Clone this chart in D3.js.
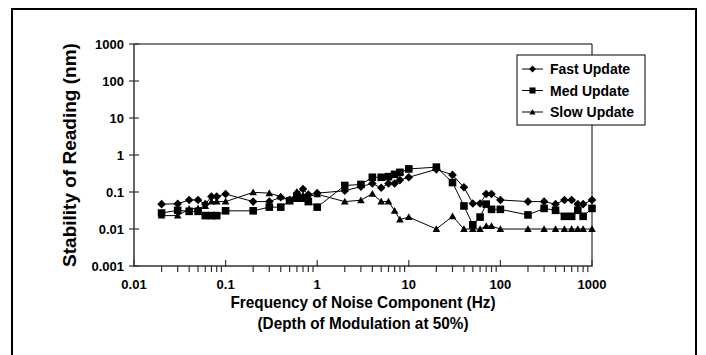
<!DOCTYPE html>
<html>
<head>
<meta charset="utf-8">
<script src="https://cdn.jsdelivr.net/npm/d3@7"></script>
<style>
  body { margin: 0; background: #fff; }
  svg text { font-family: "Liberation Sans", Arial, sans-serif; font-weight: bold; fill: #000; }
</style>
</head>
<body>
<div id="chart"></div>
<script>
// frequencies (Hz)
const frequencies = [0.02, 0.03, 0.04, 0.05, 0.06, 0.07, 0.08, 0.1, 0.2, 0.3, 0.4, 0.5, 0.6, 0.7, 0.8,
  1, 2, 3, 4, 5, 6, 7, 8, 10, 20, 30, 40, 50, 60, 70, 80, 100, 200, 300, 400, 500, 600, 700, 800, 1000];

// stability (nm)
const fastUpdate = [0.047, 0.048, 0.061, 0.061, 0.047, 0.075, 0.075, 0.088, 0.055, 0.055, 0.072, 0.062, 0.093, 0.12, 0.085,
  0.093, 0.108, 0.14, 0.17, 0.13, 0.17, 0.17, 0.21, 0.25, 0.41, 0.29, 0.134, 0.049, 0.049, 0.088, 0.088, 0.061, 0.055, 0.055,
  0.047, 0.061, 0.061, 0.047, 0.047, 0.061];
const medUpdate = [0.027, 0.032, 0.03, 0.03, 0.023, 0.023, 0.023, 0.031, 0.031, 0.039, 0.039, 0.058, 0.068, 0.068, 0.055,
  0.039, 0.15, 0.16, 0.25, 0.25, 0.26, 0.30, 0.34, 0.42, 0.47, 0.18, 0.042, 0.013, 0.021, 0.047, 0.034, 0.034, 0.024, 0.036,
  0.032, 0.022, 0.022, 0.032, 0.022, 0.036];
const slowUpdate = [0.023, 0.023, 0.035, 0.036, 0.042, 0.055, 0.055, 0.055, 0.098, 0.093, 0.075, 0.06, 0.1, 0.08, 0.075,
  0.087, 0.055, 0.06, 0.09, 0.055, 0.055, 0.031, 0.018, 0.021, 0.01, 0.022, 0.01, 0.01, 0.01, 0.012, 0.012, 0.01, 0.01, 0.01,
  0.01, 0.01, 0.01, 0.01, 0.01, 0.01];

const seriesNames = ['Fast Update', 'Med Update', 'Slow Update'];
const xTicks = [0.01, 0.1, 1, 10, 100, 1000];
const yTicks = [0.001, 0.01, 0.1, 1, 10, 100, 1000];

const width = 706, height = 355;
const margin = { left: 134, right: 114, top: 44, bottom: 89 };
const plotW = width - margin.left - margin.right;
const plotH = height - margin.top - margin.bottom;

const svg = d3.select('#chart').append('svg')
  .attr('width', width)
  .attr('height', height);

// outer frame (bottom edge is cut off)
svg.append('path')
  .attr('d', 'M12,356 V9 H696 V356')
  .attr('fill', 'none')
  .attr('stroke', '#000')
  .attr('stroke-width', 2);

const g = svg.append('g')
  .attr('transform', `translate(${margin.left},${margin.top})`);

const x = d3.scaleLog().domain([0.01, 1000]).range([0, plotW]);
const y = d3.scaleLog().domain([0.001, 1000]).range([plotH, 0]);

// top and right border of plot
g.append('path')
  .attr('d', `M0,0 H${plotW} V${plotH}`)
  .attr('fill', 'none')
  .attr('stroke', '#000')
  .attr('stroke-width', 1);

// minor x ticks (outside)
const minorX = [];
for (let p = -2; p < 3; p++) {
  for (let m = 2; m <= 9; m++) minorX.push(m * Math.pow(10, p));
}
g.append('g')
  .selectAll('line')
  .data(minorX)
  .join('line')
  .attr('x1', d => x(d)).attr('x2', d => x(d))
  .attr('y1', plotH).attr('y2', plotH + 6)
  .attr('stroke', '#333')
  .attr('stroke-width', 1.2);

// major x ticks (inside)
g.append('g')
  .selectAll('line')
  .data(xTicks)
  .join('line')
  .attr('x1', d => x(d)).attr('x2', d => x(d))
  .attr('y1', plotH - 6).attr('y2', plotH + 1)
  .attr('stroke', '#333')
  .attr('stroke-width', 1.2);

// x axis line + labels
g.append('line')
  .attr('x1', 0).attr('x2', plotW)
  .attr('y1', plotH).attr('y2', plotH)
  .attr('stroke', '#333')
  .attr('stroke-width', 1.5);

g.append('g')
  .selectAll('text')
  .data(xTicks)
  .join('text')
  .attr('x', d => x(d))
  .attr('y', plotH + 23)
  .attr('text-anchor', 'middle')
  .style('font-size', '13px')
  .text(d => String(d));

// y axis line, crossing ticks + labels
g.append('line')
  .attr('x1', 0).attr('x2', 0)
  .attr('y1', 0).attr('y2', plotH)
  .attr('stroke', '#333')
  .attr('stroke-width', 1.5);

g.append('g')
  .selectAll('line')
  .data(yTicks)
  .join('line')
  .attr('x1', -5).attr('x2', 5)
  .attr('y1', d => y(d)).attr('y2', d => y(d))
  .attr('stroke', '#333')
  .attr('stroke-width', 1.2);

g.append('g')
  .selectAll('text')
  .data(yTicks)
  .join('text')
  .attr('x', -10)
  .attr('y', d => y(d) + 4.5)
  .attr('text-anchor', 'end')
  .style('font-size', '13px')
  .text(d => String(d));

// axis titles
svg.append('text')
  .attr('transform', `translate(76,${margin.top + plotH / 2}) rotate(-90)`)
  .attr('text-anchor', 'middle')
  .style('font-size', '19px')
  .text('Stability of Reading (nm)');

svg.append('text')
  .attr('x', 363).attr('y', 308)
  .attr('text-anchor', 'middle')
  .attr('textLength', 265)
  .attr('lengthAdjust', 'spacingAndGlyphs')
  .style('font-size', '16.5px')
  .text('Frequency of Noise Component (Hz)');

svg.append('text')
  .attr('x', 363).attr('y', 329)
  .attr('text-anchor', 'middle')
  .attr('textLength', 211)
  .attr('lengthAdjust', 'spacingAndGlyphs')
  .style('font-size', '16.5px')
  .text('(Depth of Modulation at 50%)');

// markers
const markerPaths = {
  'Fast Update': 'M0,-4.3 L4.3,0 L0,4.3 L-4.3,0 Z',
  'Med Update': 'M-3.8,-3.8 H3.8 V3.8 H-3.8 Z',
  'Slow Update': 'M0,-3.8 L3.8,3 L-3.8,3 Z'
};

const series = [
  { name: seriesNames[0], values: fastUpdate },
  { name: seriesNames[1], values: medUpdate },
  { name: seriesNames[2], values: slowUpdate }
];

const line = d3.line()
  .x((d, i) => x(frequencies[i]))
  .y(d => y(d));

const seriesG = g.append('g')
  .selectAll('g')
  .data(series)
  .join('g');

seriesG.append('path')
  .attr('d', d => line(d.values))
  .attr('fill', 'none')
  .attr('stroke', '#000')
  .attr('stroke-width', 1);

seriesG.each(function (s) {
  d3.select(this).selectAll('path.mark')
    .data(s.values)
    .join('path')
    .attr('class', 'mark')
    .attr('transform', (d, i) => `translate(${x(frequencies[i])},${y(d)})`)
    .attr('d', markerPaths[s.name])
    .attr('fill', '#000');
});

// legend
const legend = svg.append('g').attr('transform', 'translate(517,55)');
legend.append('rect')
  .attr('width', 128).attr('height', 70)
  .attr('fill', '#fff')
  .attr('stroke', '#000')
  .attr('stroke-width', 1);

const item = legend.selectAll('g.item')
  .data(series)
  .join('g')
  .attr('class', 'item')
  .attr('transform', (d, i) => `translate(0,${14 + i * 21.5})`);

item.append('line')
  .attr('x1', 5).attr('x2', 26)
  .attr('stroke', '#000')
  .attr('stroke-width', 1);

item.append('path')
  .attr('transform', 'translate(15.5,0) scale(0.8)')
  .attr('d', d => markerPaths[d.name])
  .attr('fill', '#000');

item.append('text')
  .attr('x', 33)
  .attr('y', 5)
  .style('font-size', '14px')
  .text(d => d.name);
</script>
</body>
</html>
